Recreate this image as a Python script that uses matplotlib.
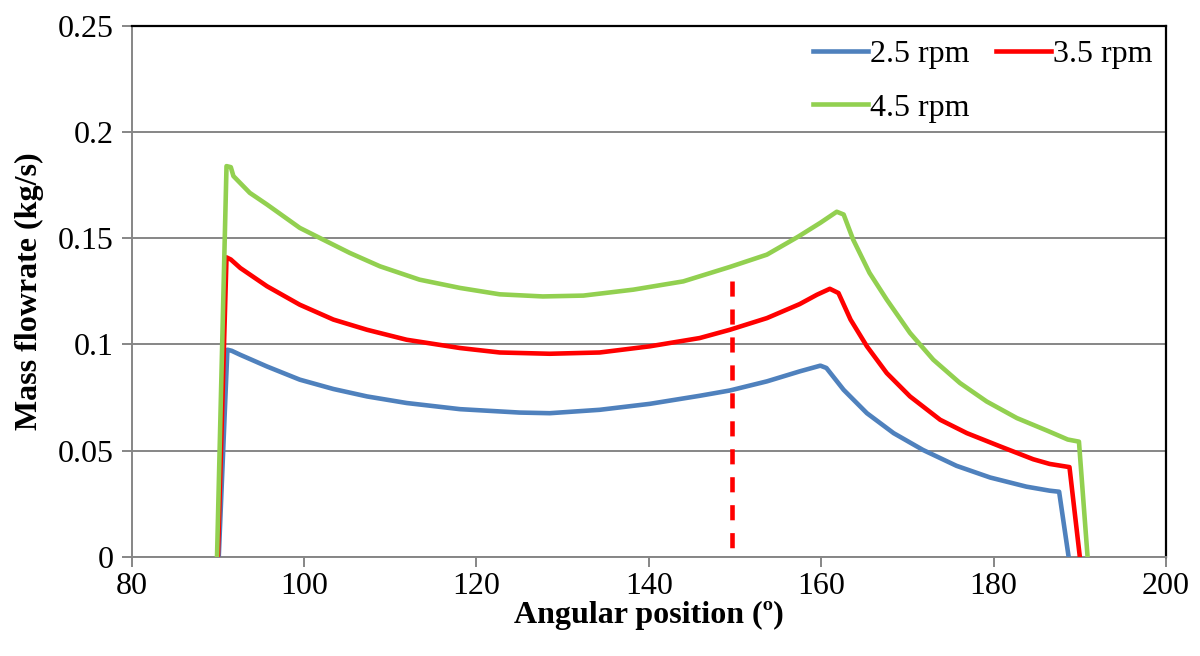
import matplotlib
matplotlib.use("Agg")
import matplotlib.pyplot as plt

plt.rcParams['font.family'] = ['Liberation Serif', 'DejaVu Serif']

# Mass flow rate against angular position for three drum speeds
angle_25 = [90.1, 91.1, 91.6, 92.6, 95.7, 99.5, 103.4, 107.3, 111.9, 118.1, 125.0,
            128.5, 134.3, 140.1, 145.9, 149.4, 153.7, 157.5, 159.9, 160.6, 162.6,
            165.3, 168.4, 171.8, 175.7, 179.6, 183.8, 186.5, 187.6, 188.7]
flow_25 = [0.0, 0.0975, 0.0970, 0.0951, 0.0896, 0.0834, 0.0790, 0.0755, 0.0724, 0.0695,
           0.0679, 0.0676, 0.0692, 0.0720, 0.0758, 0.0783, 0.0826, 0.0873, 0.0900,
           0.0889, 0.0786, 0.0676, 0.0582, 0.0503, 0.0428, 0.0373, 0.0330, 0.0311,
           0.0306, 0.0]

angle_35 = [90.0, 91.0, 91.5, 92.6, 95.7, 99.5, 103.4, 107.3, 111.9, 118.1, 122.7,
            128.5, 134.3, 140.1, 145.9, 149.4, 153.7, 157.5, 159.5, 161.0, 162.0,
            163.4, 165.3, 167.6, 170.3, 173.8, 176.9, 180.8, 184.6, 186.5, 188.8, 190.0]
flow_35 = [0.0, 0.1410, 0.1400, 0.1360, 0.1274, 0.1187, 0.1117, 0.1069, 0.1022, 0.0983,
           0.0962, 0.0956, 0.0962, 0.0991, 0.1030, 0.1069, 0.1124, 0.1190, 0.1234,
           0.1262, 0.1242, 0.1117, 0.0991, 0.0865, 0.0755, 0.0645, 0.0582, 0.0519,
           0.0459, 0.0437, 0.0422, 0.0]

angle_45 = [89.9, 91.0, 91.5, 91.8, 93.7, 95.7, 99.5, 101.8, 105.3, 108.8, 113.4,
            118.1, 122.7, 127.7, 132.4, 138.2, 144.0, 149.4, 153.7, 157.3, 159.9,
            161.8, 162.6, 163.7, 165.6, 167.6, 170.3, 173.0, 176.1, 179.2, 182.7,
            186.2, 188.6, 189.9, 190.9]
flow_45 = [0.0, 0.1840, 0.1835, 0.1793, 0.1714, 0.1659, 0.1549, 0.1502, 0.1431, 0.1368,
           0.1305, 0.1266, 0.1236, 0.1226, 0.1230, 0.1258, 0.1297, 0.1365, 0.1423,
           0.1507, 0.1573, 0.1625, 0.1612, 0.1494, 0.1337, 0.1211, 0.1054, 0.0928,
           0.0818, 0.0731, 0.0653, 0.0594, 0.0552, 0.0542, 0.0]

series_labels = ['2.5 rpm', '3.5 rpm', '4.5 rpm']
series_colors = ['#4F81BD', '#FF0000', '#92D050']

marker_angle = 149.6
marker_top = 0.130

x_ticks = [80, 100, 120, 140, 160, 180, 200]
y_ticks = [0, 0.05, 0.1, 0.15, 0.2, 0.25]
y_tick_labels = ['0', '0.05', '0.1', '0.15', '0.2', '0.25']

W, H = 1200, 656
fig = plt.figure(figsize=(W / 100, H / 100), dpi=100)
left, right, bottom, top = 131.7, 1166.0, 556.7, 26.0
ax = fig.add_axes([left / W, 1 - bottom / H, (right - left) / W, (bottom - top) / H])

grey = '#868686'
fs = 23

ax.set_xlim(80, 200)
ax.set_ylim(0, 0.25)
ax.set_xticks(x_ticks)
ax.set_xticklabels([str(t) for t in x_ticks])
ax.set_yticks(y_ticks)
ax.set_yticklabels(y_tick_labels)
ax.yaxis.grid(True, color=grey, linewidth=1.4)
ax.set_axisbelow(True)

for side in ['left', 'bottom']:
    ax.spines[side].set_color(grey)
    ax.spines[side].set_linewidth(1.4)
for side in ['top', 'right']:
    ax.spines[side].set_color('black')
    ax.spines[side].set_linewidth(1.6)

ax.tick_params(axis='both', direction='out', length=7, width=1.4, color=grey,
               labelsize=fs, labelcolor='black')
ax.tick_params(axis='y', pad=6)
ax.tick_params(axis='x', pad=4)

lw = 3.3
data = [(angle_25, flow_25), (angle_35, flow_35), (angle_45, flow_45)]
lines = []
for (xs, ys), lab, col in zip(data, series_labels, series_colors):
    ln, = ax.plot(xs, ys, color=col, linewidth=lw, label=lab,
                  solid_joinstyle='round', zorder=3)
    lines.append(ln)

ax.plot([marker_angle, marker_angle], [marker_top, 0.0], color='#FF0000',
        linewidth=lw, linestyle=(0, (3.3, 2.8)), zorder=4, clip_on=True)

ax.set_xlabel('Angular position (º)', fontsize=fs, fontweight='bold', labelpad=0)
ax.set_ylabel('Mass flowrate (kg/s)', fontsize=fs, fontweight='bold', labelpad=10)

# legend laid out row by row: 2.5, 3.5 on the first row, 4.5 below
order = [0, 2, 1]
leg = ax.legend([lines[i] for i in order], [series_labels[i] for i in order],
                ncol=2, frameon=False, fontsize=fs,
                loc='upper left', bbox_to_anchor=(813 / W, 1 - 40 / H),
                bbox_transform=fig.transFigure, borderpad=0, borderaxespad=0,
                handlelength=1.72, handletextpad=0.08, columnspacing=0.8,
                labelspacing=0.75)

fig.savefig('out.png', dpi=100, facecolor='white')
